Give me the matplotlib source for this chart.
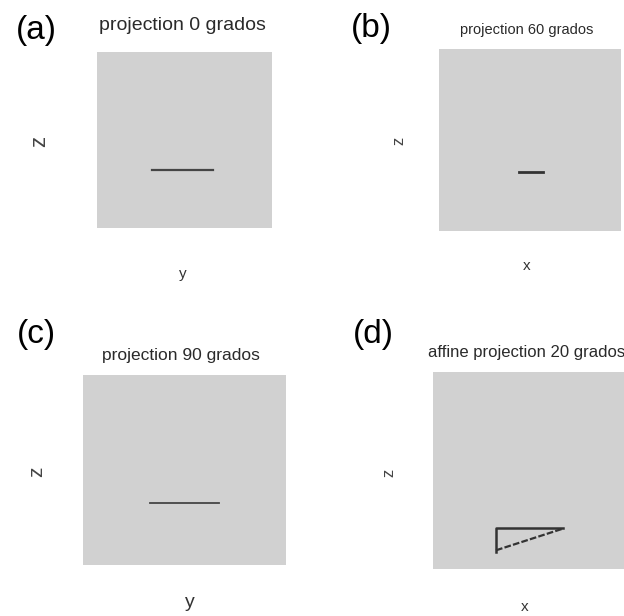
import matplotlib.pyplot as plt

plt.rcParams['font.family'] = ['Liberation Sans', 'DejaVu Sans']

# panel titles and axis labels
panel_tags = ['(a)', '(b)', '(c)', '(d)']
titles = ['projection 0 grados', 'projection 60 grados',
          'projection 90 grados', 'affine projection 20 grados']
xlabels = ['y', 'x', 'y', 'x']
ylabels = ['z', 'z', 'z', 'z']

# projected segments, axes run from -1 to 1
seg_a_x = [-0.37, 0.33]
seg_a_y = [-0.34, -0.34]
seg_b_x = [-0.12, 0.14]
seg_b_y = [-0.35, -0.35]
seg_c_x = [-0.34, 0.34]
seg_c_y = [-0.35, -0.35]

# affine projection: wedge outline and its slanted edge
wedge_x = [0.32, -0.36, -0.36]
wedge_y = [-0.58, -0.58, -0.83]
hyp_x = [-0.36, 0.32]
hyp_y = [-0.81, -0.59]

fig = plt.figure(figsize=(6.24, 6.16), dpi=100)

# axes rectangles [left, bottom, width, height]
rects = [[0.1554, 0.6299, 0.2804, 0.2857],
         [0.7035, 0.6250, 0.2917, 0.2955],
         [0.1330, 0.0828, 0.3253, 0.3084],
         [0.6939, 0.0763, 0.3157, 0.3198]]
title_pos = [(0.486, 1.153), (0.484, 1.104), (0.483, 1.105), (-0.025, 1.10)]
title_size = [14, 10.5, 12.5, 12]
xlab_pos = [(0.49, -0.262), (0.484, -0.19), (0.527, -0.20), (0.467, -0.193)]
ylab_pos = [(-0.326, 0.49), (-0.22, 0.495), (-0.227, 0.49), (-0.223, 0.49)]
xlab_size = [11, 11, 14, 11]
ylab_size = [16, 12, 15, 12]
tag_pos = [(36, 31), (371, 28), (36, 334), (373, 334)]

axes = []
for i in range(4):
    ax = fig.add_axes(rects[i])
    ax.set_facecolor('#d1d1d1')
    ax.set_xlim(-1, 1)
    ax.set_ylim(-1, 1)
    ax.set_xticks([])
    ax.set_yticks([])
    for s in ax.spines.values():
        s.set_visible(False)
    tx, ty = title_pos[i]
    ax.text(tx, ty, titles[i], transform=ax.transAxes, fontsize=title_size[i],
            ha='left' if i == 3 else 'center', va='center', color='#2a2a2a',
            clip_on=False)
    ax.set_xlabel(xlabels[i], fontsize=xlab_size[i], color='#333333', va='center')
    ax.xaxis.set_label_coords(*xlab_pos[i])
    ax.set_ylabel(ylabels[i], fontsize=ylab_size[i], color='#444444', va='center')
    ax.yaxis.set_label_coords(*ylab_pos[i])
    fig.text(tag_pos[i][0] / 624, 1 - tag_pos[i][1] / 616, panel_tags[i],
             fontsize=24, ha='center', va='center', color='black')
    axes.append(ax)

axes[0].plot(seg_a_x, seg_a_y, color='#454545', lw=1.6)
axes[1].plot(seg_b_x, seg_b_y, color='#333333', lw=2.0)
axes[2].plot(seg_c_x, seg_c_y, color='#454545', lw=1.3)
axes[3].plot(wedge_x, wedge_y, color='#333333', lw=1.8)
axes[3].plot(hyp_x, hyp_y, color='#333333', lw=1.6, dashes=(3, 1))

fig.savefig('out.png', dpi=100)
